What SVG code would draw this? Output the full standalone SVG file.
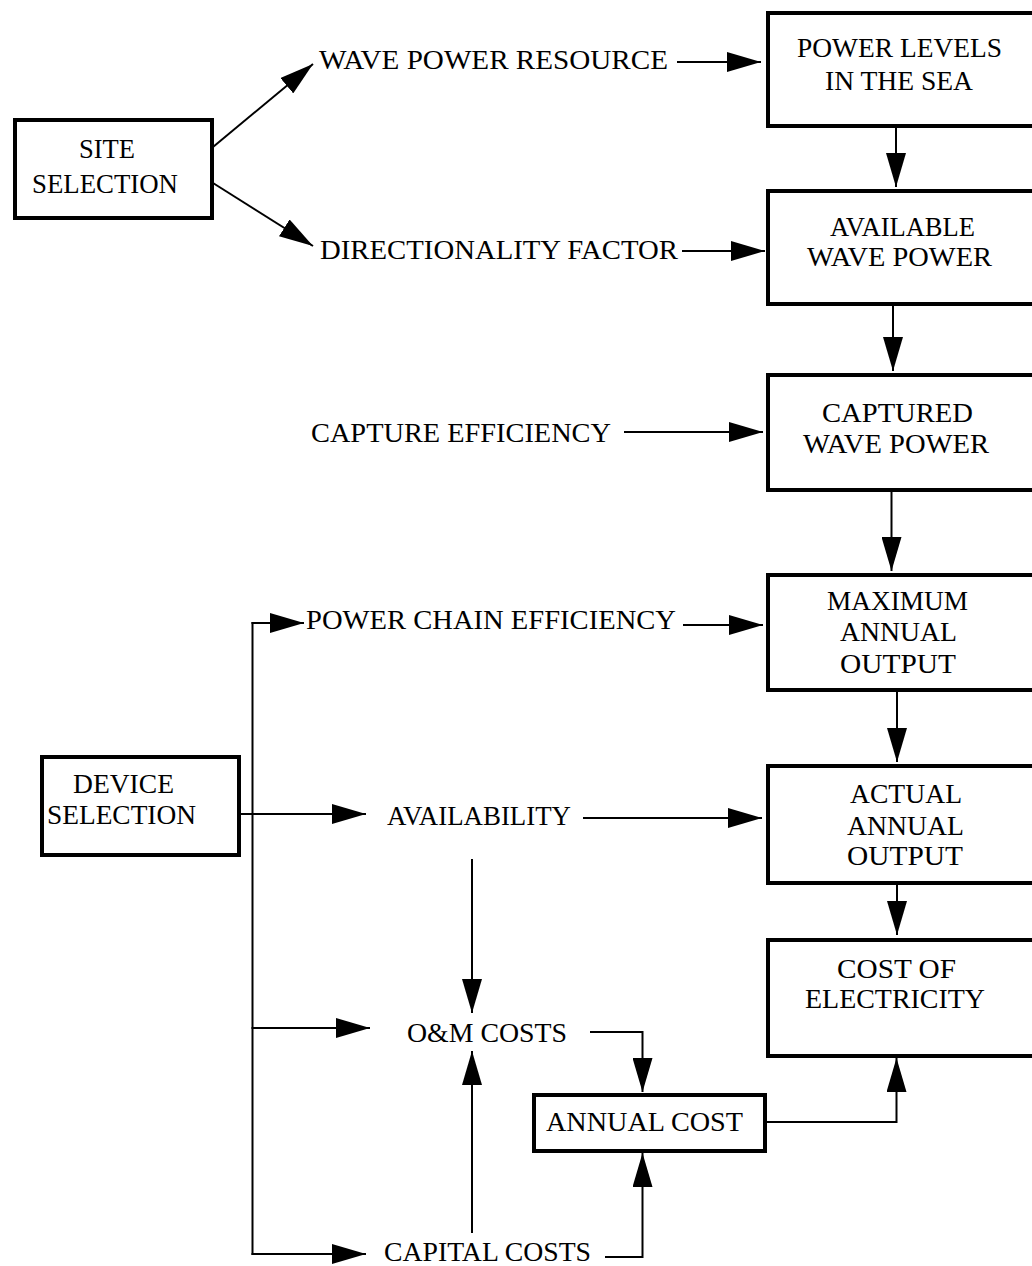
<svg xmlns="http://www.w3.org/2000/svg" width="1032" height="1266" viewBox="0 0 1032 1266">
<style>
.box{fill:#fff;stroke:#000;stroke-width:4}
.t{font-family:"Liberation Serif","Times New Roman",serif;font-size:28px;fill:#000}
.c{fill:none;stroke:#000;stroke-width:2}
</style>
<defs>
<marker id="ah" markerUnits="userSpaceOnUse" markerWidth="34" markerHeight="20" refX="34" refY="10" orient="auto">
<path d="M0,0 L34,10 L0,20 z" fill="#000"/>
</marker>
</defs>
<rect width="1032" height="1266" fill="#fff"/>

<g id="connectors">
<path class="c" d="M213,147 L313,64" marker-end="url(#ah)"/>
<path class="c" d="M213,183 L313,246" marker-end="url(#ah)"/>
<path class="c" d="M677,62 L761,62" marker-end="url(#ah)"/>
<path class="c" d="M682,251 L765,251" marker-end="url(#ah)"/>
<path class="c" d="M896,128 L896,187" marker-end="url(#ah)"/>
<path class="c" d="M893,306 L893,371" marker-end="url(#ah)"/>
<path class="c" d="M624,432 L763,432" marker-end="url(#ah)"/>
<path class="c" d="M891.5,492 L891.5,571" marker-end="url(#ah)"/>
<path class="c" d="M683,625 L763,625" marker-end="url(#ah)"/>
<path class="c" d="M897,692 L897,762" marker-end="url(#ah)"/>
<path class="c" d="M583,818 L762,818" marker-end="url(#ah)"/>
<path class="c" d="M897,885 L897,935" marker-end="url(#ah)"/>
<path class="c" d="M252.5,622 L252.5,1255"/>
<path class="c" d="M251.5,623 L304,623" marker-end="url(#ah)"/>
<path class="c" d="M233,814 L366,814" marker-end="url(#ah)"/>
<path class="c" d="M251.5,1028 L370,1028" marker-end="url(#ah)"/>
<path class="c" d="M251.5,1254 L366,1254" marker-end="url(#ah)"/>
<path class="c" d="M472,859 L472,1013" marker-end="url(#ah)"/>
<path class="c" d="M472,1233 L472,1051" marker-end="url(#ah)"/>
<path class="c" d="M590,1032 L642.5,1032 L642.5,1092" marker-end="url(#ah)"/>
<path class="c" d="M605,1257 L642.5,1257 L642.5,1153" marker-end="url(#ah)"/>
<path class="c" d="M766,1122 L896.5,1122 L896.5,1058" marker-end="url(#ah)"/>
</g>

<g id="site-selection">
<rect class="box" x="15" y="120" width="197" height="98"/>
<text class="t" x="79" y="158" textLength="56" lengthAdjust="spacingAndGlyphs">SITE</text>
<text class="t" x="32" y="193" textLength="146" lengthAdjust="spacingAndGlyphs">SELECTION</text>
</g>

<g id="wave-power-resource">
<text class="t" x="319" y="69" textLength="349" lengthAdjust="spacingAndGlyphs">WAVE POWER RESOURCE</text>
</g>

<g id="directionality-factor">
<text class="t" x="320" y="259" textLength="358" lengthAdjust="spacingAndGlyphs">DIRECTIONALITY FACTOR</text>
</g>

<g id="power-levels">
<rect class="box" x="768" y="13" width="300" height="113"/>
<text class="t" x="797" y="57" textLength="205" lengthAdjust="spacingAndGlyphs">POWER LEVELS</text>
<text class="t" x="825" y="90" textLength="148" lengthAdjust="spacingAndGlyphs">IN THE SEA</text>
</g>

<g id="available-wave-power">
<rect class="box" x="768" y="191" width="300" height="113"/>
<text class="t" x="830" y="236" textLength="145" lengthAdjust="spacingAndGlyphs">AVAILABLE</text>
<text class="t" x="807" y="266" textLength="185" lengthAdjust="spacingAndGlyphs">WAVE POWER</text>
</g>

<g id="capture-efficiency">
<text class="t" x="311" y="442" textLength="300" lengthAdjust="spacingAndGlyphs">CAPTURE EFFICIENCY</text>
</g>

<g id="captured-wave-power">
<rect class="box" x="768" y="375" width="300" height="115"/>
<text class="t" x="822" y="422" textLength="151" lengthAdjust="spacingAndGlyphs">CAPTURED</text>
<text class="t" x="803" y="453" textLength="186" lengthAdjust="spacingAndGlyphs">WAVE POWER</text>
</g>

<g id="power-chain-efficiency">
<text class="t" x="306" y="629" textLength="370" lengthAdjust="spacingAndGlyphs">POWER CHAIN EFFICIENCY</text>
</g>

<g id="maximum-annual-output">
<rect class="box" x="768" y="575" width="300" height="115"/>
<text class="t" x="827" y="610" textLength="141" lengthAdjust="spacingAndGlyphs">MAXIMUM</text>
<text class="t" x="840" y="641" textLength="117" lengthAdjust="spacingAndGlyphs">ANNUAL</text>
<text class="t" x="840" y="673" textLength="116" lengthAdjust="spacingAndGlyphs">OUTPUT</text>
</g>

<g id="device-selection">
<rect class="box" x="42" y="757" width="197" height="98"/>
<text class="t" x="73" y="793" textLength="101" lengthAdjust="spacingAndGlyphs">DEVICE</text>
<text class="t" x="47" y="824" textLength="149" lengthAdjust="spacingAndGlyphs">SELECTION</text>
</g>

<g id="availability">
<text class="t" x="387" y="825" textLength="184" lengthAdjust="spacingAndGlyphs">AVAILABILITY</text>
</g>

<g id="actual-annual-output">
<rect class="box" x="768" y="766" width="300" height="117"/>
<text class="t" x="850" y="803" textLength="112" lengthAdjust="spacingAndGlyphs">ACTUAL</text>
<text class="t" x="847" y="835" textLength="117" lengthAdjust="spacingAndGlyphs">ANNUAL</text>
<text class="t" x="847" y="865" textLength="116" lengthAdjust="spacingAndGlyphs">OUTPUT</text>
</g>

<g id="cost-of-electricity">
<rect class="box" x="768" y="940" width="300" height="116"/>
<text class="t" x="837" y="978" textLength="119" lengthAdjust="spacingAndGlyphs">COST OF</text>
<text class="t" x="805" y="1008" textLength="180" lengthAdjust="spacingAndGlyphs">ELECTRICITY</text>
</g>

<g id="om-costs">
<text class="t" x="407" y="1042" textLength="160" lengthAdjust="spacingAndGlyphs">O&amp;M COSTS</text>
</g>

<g id="annual-cost">
<rect class="box" x="534" y="1095" width="231" height="56"/>
<text class="t" x="546" y="1131" textLength="197" lengthAdjust="spacingAndGlyphs">ANNUAL COST</text>
</g>

<g id="capital-costs">
<text class="t" x="384" y="1261" textLength="207" lengthAdjust="spacingAndGlyphs">CAPITAL COSTS</text>
</g>
</svg>
